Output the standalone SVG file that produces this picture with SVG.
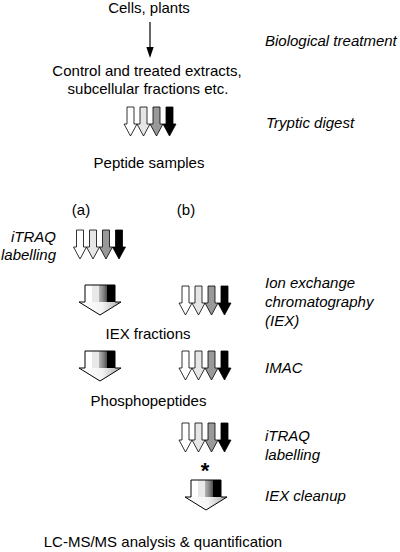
<svg xmlns="http://www.w3.org/2000/svg" xmlns:xlink="http://www.w3.org/1999/xlink" width="400" height="552" viewBox="0 0 400 552">
<style>
text{font-family:"Liberation Sans",Arial,sans-serif;font-size:15px;fill:#000}
.c{text-anchor:middle}
.i{font-style:italic}
.e{text-anchor:end}
.ol{fill:none;stroke:#000;stroke-width:1}
</style>
<defs>
<linearGradient id="bands" x1="0" y1="0" x2="1" y2="0">
<stop offset="0" stop-color="#fff"/>
<stop offset="0.25" stop-color="#fff"/>
<stop offset="0.25" stop-color="#e8e8e8"/>
<stop offset="0.48" stop-color="#e8e8e8"/>
<stop offset="0.48" stop-color="#b0b0b0"/>
<stop offset="0.6" stop-color="#8a8a8a"/>
<stop offset="0.72" stop-color="#555"/>
<stop offset="0.72" stop-color="#000"/>
<stop offset="1" stop-color="#000"/>
</linearGradient>
<linearGradient id="head" x1="0" y1="0" x2="1" y2="0">
<stop offset="0" stop-color="#fff"/>
<stop offset="0.55" stop-color="#f4f4f4"/>
<stop offset="1" stop-color="#aaa"/>
</linearGradient>
<path id="sa" d="M-3.5,0H3.5V17H6.5L0,29L-6.5,17H-3.5Z"/>
<g id="quad">
<use xlink:href="#sa" x="0" fill="#fff" stroke="#000" stroke-width="0.8"/>
<use xlink:href="#sa" x="13" fill="#e6e6e6" stroke="#000" stroke-width="0.8"/>
<use xlink:href="#sa" x="26" fill="#999" stroke="#000" stroke-width="0.8"/>
<use xlink:href="#sa" x="39" fill="#000" stroke="#000" stroke-width="0.8"/>
</g>
<g id="big">
<rect x="-15" y="0" width="30" height="17" fill="url(#bands)"/>
<path d="M-21,17H21L0,30Z" fill="url(#head)"/>
<path d="M-15,17V0H15V17H21L0,30L-21,17Z" class="ol"/>
</g>
</defs>

<g id="cells"><text class="c" x="149" y="13">Cells, plants</text></g>
<g id="bio"><text class="i" x="265" y="46">Biological treatment</text></g>
<g id="extracts">
<text class="c" x="147" y="76">Control and treated extracts,</text>
<text class="c" x="148" y="94">subcellular fractions etc.</text>
</g>
<g id="tryptic"><text class="i" x="266" y="128">Tryptic digest</text></g>
<g id="peptides"><text class="c" x="149" y="168">Peptide samples</text></g>
<g id="labA"><text class="c" x="81" y="215">(a)</text></g>
<g id="labB"><text class="c" x="186" y="215">(b)</text></g>
<g id="itraqA">
<text class="i e" x="56" y="242">iTRAQ</text>
<text class="i e" x="56" y="260">labelling</text>
</g>
<g id="iex">
<text class="i" x="265" y="288">Ion exchange</text>
<text class="i" x="265" y="307">chromatography</text>
<text class="i" x="265" y="326">(IEX)</text>
</g>
<g id="iexfrac"><text class="c" x="148" y="339">IEX fractions</text></g>
<g id="imac"><text class="i" x="265" y="373">IMAC</text></g>
<g id="phospho"><text class="c" x="148.5" y="406">Phosphopeptides</text></g>
<g id="itraqB">
<text class="i" x="265" y="441">iTRAQ</text>
<text class="i" x="265" y="460">labelling</text>
</g>
<g id="star"><text class="c" x="205" y="478" style="font-size:22px;font-weight:bold">*</text></g>
<g id="cleanup"><text class="i" x="265" y="501">IEX cleanup</text></g>
<g id="lcms"><text class="c" x="163" y="547">LC-MS/MS analysis &amp; quantification</text></g>

<g id="connectors">
<line x1="150" y1="22" x2="150" y2="49" stroke="#000" stroke-width="1.2"/>
<path d="M146.3,47H153.7L150,58Z" fill="#000"/>
<use xlink:href="#quad" x="130.5" y="107"/>
<use xlink:href="#quad" x="80" y="230"/>
<use xlink:href="#big" x="100" y="285"/>
<use xlink:href="#quad" x="185.5" y="286"/>
<use xlink:href="#big" x="100" y="351"/>
<use xlink:href="#quad" x="185.5" y="351"/>
<use xlink:href="#quad" x="185.5" y="423"/>
<use xlink:href="#big" x="206" y="480"/>
</g>
</svg>
